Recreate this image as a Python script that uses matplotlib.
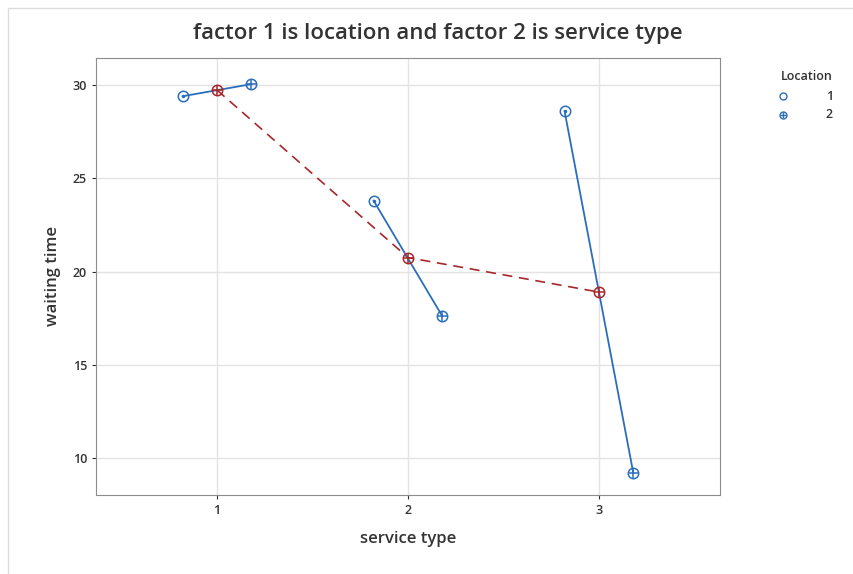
import numpy as np
import matplotlib.pyplot as plt
from matplotlib.lines import Line2D
from matplotlib.patches import Rectangle

# data
service_types = [1, 2, 3]
loc1_wait = [29.4, 23.8, 28.6]
loc2_wait = [30.05, 17.6, 9.2]
mean_wait = [29.73, 20.75, 18.9]
legend_labels = ['1', '2']
offset = 0.18

blue = '#2a6ebd'
red = '#a8282a'
plt.rcParams['font.family'] = ['Open Sans', 'DejaVu Sans']

fig = plt.figure(figsize=(8.54, 5.74), dpi=100)
ax = fig.add_axes([96 / 854, 1 - 495 / 574, 624 / 854, 437 / 574])

# faint outer border like the screenshot
fig.patches.append(Rectangle((8 / 854, -0.01), 1.0, 1 - 8 / 574 + 0.01, transform=fig.transFigure,
                             fill=False, edgecolor='#dcdcdc', linewidth=1))


def circle_dot(x, y):
    ax.plot(x, y, 'o', ms=7.5, mfc='none', mec=blue, mew=1.1, zorder=4)
    ax.plot(x, y, '.', ms=3, color=blue, zorder=4)


def circle_cross(x, y, c):
    ax.plot(x, y, 'o', ms=7.5, mfc='none', mec=c, mew=1.1, zorder=4)
    ax.plot(x, y, '+', ms=7.5, mec=c, mew=1.1, zorder=4)


# red dashed line through the means
ax.plot(service_types, mean_wait, '--', color=red, lw=1.2, dashes=(6, 4), zorder=3)
for s, m in zip(service_types, mean_wait):
    circle_cross(s, m, red)

# blue lines between locations within each service type
for s, a, b in zip(service_types, loc1_wait, loc2_wait):
    ax.plot([s - offset, s + offset], [a, b], '-', color=blue, lw=1.3, zorder=3)
    circle_dot(s - offset, a)
    circle_cross(s + offset, b, blue)

ax.set_xlim(0.366, 3.634)
ax.set_ylim(8.02, 31.45)
ax.set_xticks(service_types)
ax.set_yticks([10, 15, 20, 25, 30])
ax.grid(True, color='#e3e3e3', lw=1)
ax.set_axisbelow(True)
ax.tick_params(labelsize=9, colors='#333333', length=3)
for lbl in ax.get_xticklabels() + ax.get_yticklabels():
    lbl.set_fontweight('semibold')
for sp in ax.spines.values():
    sp.set_color('#8c8c8c')

ax.set_xlabel('service type', fontsize=12, color='#333333', labelpad=10, fontweight='semibold')
ax.set_ylabel('waiting time', fontsize=12, color='#333333', labelpad=8, fontweight='semibold')
fig.text(438 / 854, 1 - 34 / 574, 'factor 1 is location and factor 2 is service type',
         ha='center', va='center', fontsize=16, color='#333333', fontweight='semibold')

# legend drawn by hand to sit where the reference has it
fig.text(833 / 854, 1 - 77 / 574, 'Location', ha='right', va='center', fontsize=9,
         color='#333333', fontweight='semibold')
leg_y = [96, 115]
for lab, yy, kind in zip(legend_labels, leg_y, ['dot', 'cross']):
    fy = 1 - yy / 574
    fig.add_artist(Line2D([783 / 854], [fy], marker='o', ms=5, mfc='none', mec=blue, mew=1,
                          transform=fig.transFigure))
    if kind == 'cross':
        fig.add_artist(Line2D([783 / 854], [fy], marker='+', ms=5, mec=blue, mew=1,
                              transform=fig.transFigure))
    fig.text(833 / 854, fy, lab, ha='right', va='center', fontsize=9, color='#333333',
             fontweight='semibold')

fig.savefig('out.png', dpi=100)
